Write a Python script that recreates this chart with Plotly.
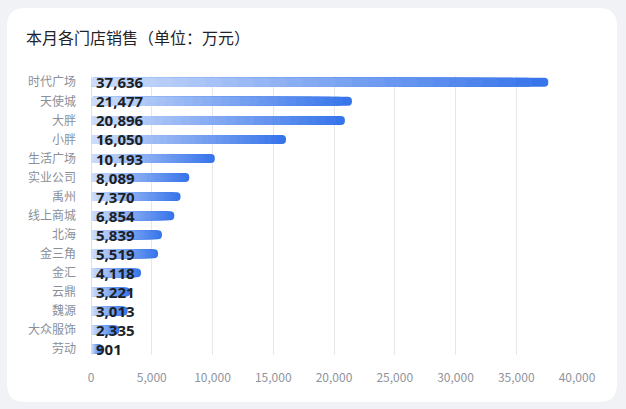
import plotly.graph_objects as go

# store sales this month, unit: 10k yuan
stores = ['时代广场', '天使城', '大胖', '小胖', '生活广场', '实业公司', '禹州',
          '线上商城', '北海', '金三角', '金汇', '云鼎', '魏源', '大众服饰', '劳动']
sales = [37636, 21477, 20896, 16050, 10193, 8089, 7370,
         6854, 5839, 5519, 4118, 3221, 3013, 2335, 901]
x_ticks = [0, 5000, 10000, 15000, 20000, 25000, 30000, 35000, 40000]

W, H = 626, 409
L, R, T, B = 91, 49, 76, 54
N_STEPS = 28
c_light = (204, 220, 250)
c_dark = (56, 117, 234)


def mix(t):
    r, g, b = [round(a + (b_ - a) * t) for a, b_ in zip(c_light, c_dark)]
    return f'rgb({r},{g},{b})'


fig = go.Figure()

# gradient: longest (darkest) first, shorter lighter bars on top
# each bar is two halves so both ends get rounded
for k in reversed(range(N_STEPS)):
    lens = [v * (k + 1) / N_STEPS for v in sales]
    half = [l / 2 for l in lens]
    col = mix(k / (N_STEPS - 1))
    for sign in (-1, 1):
        fig.add_trace(go.Bar(
            y=stores, x=[sign * h for h in half], base=half,
            orientation='h', width=0.47,
            marker=dict(color=col, cornerradius=5, line=dict(width=0)),
            hoverinfo='skip', showlegend=False,
        ))

# value labels at the start of each bar
for name, v in zip(stores, sales):
    fig.add_annotation(x=0, y=name, text=f'{v:,}', showarrow=False,
                       xanchor='left', yanchor='middle', xshift=3,
                       font=dict(family='Open Sans', size=15, color='#1c1f26',
                                 weight='bold'))


def px_x(p):
    return (p - L) / (W - L - R)


def px_y(p):
    return (H - B - p) / (H - T - B)


# white card with rounded corners
x0, y0, x1, y1, rad = 7, 8, 617, 402, 18
pts = [
    ('M', x0 + rad, y0), ('L', x1 - rad, y0), ('Q', x1, y0, x1, y0 + rad),
    ('L', x1, y1 - rad), ('Q', x1, y1, x1 - rad, y1), ('L', x0 + rad, y1),
    ('Q', x0, y1, x0, y1 - rad), ('L', x0, y0 + rad), ('Q', x0, y0, x0 + rad, y0),
]
path = ''
for p in pts:
    cmd, coords = p[0], p[1:]
    xy = []
    for i in range(0, len(coords), 2):
        xy.append(f'{px_x(coords[i]):.5f},{px_y(coords[i + 1]):.5f}')
    path += cmd + ' ' + ' '.join(xy) + ' '
path += 'Z'

fig.add_shape(type='path', path=path, xref='paper', yref='paper',
              fillcolor='white', line=dict(width=0), layer='below')

fig.update_layout(
    width=W, height=H,
    margin=dict(l=L, r=R, t=T, b=B),
    barmode='overlay',
    paper_bgcolor='#f1f2f5',
    plot_bgcolor='rgba(0,0,0,0)',
    font=dict(family='Noto Sans CJK SC', size=12, color='#8a8f99'),
    title=dict(text='本月各门店销售（单位：万元）', x=26 / W, xanchor='left',
               y=1 - 38 / H, yanchor='middle',
               font=dict(size=16, color='#1f2329')),
    xaxis=dict(range=[0, 40000], tickvals=x_ticks, tickformat=',d',
               showgrid=True, gridcolor='#e6e7ea', gridwidth=1,
               zeroline=True, zerolinecolor='#e0e1e4', zerolinewidth=1,
               showline=False, ticks='', ticklabelstandoff=14,
               tickfont=dict(size=12, color='#8f949c')),
    yaxis=dict(type='category', range=[len(stores) - 1 + 0.31, -0.33],
               showgrid=False, zeroline=False, showline=False, ticks='',
               ticklabelstandoff=14,
               tickfont=dict(size=12, color='#8a8f99')),
)

fig.write_html('out.html', config={'displayModeBar': False},
               post_script="document.body.style.margin='0px';")
